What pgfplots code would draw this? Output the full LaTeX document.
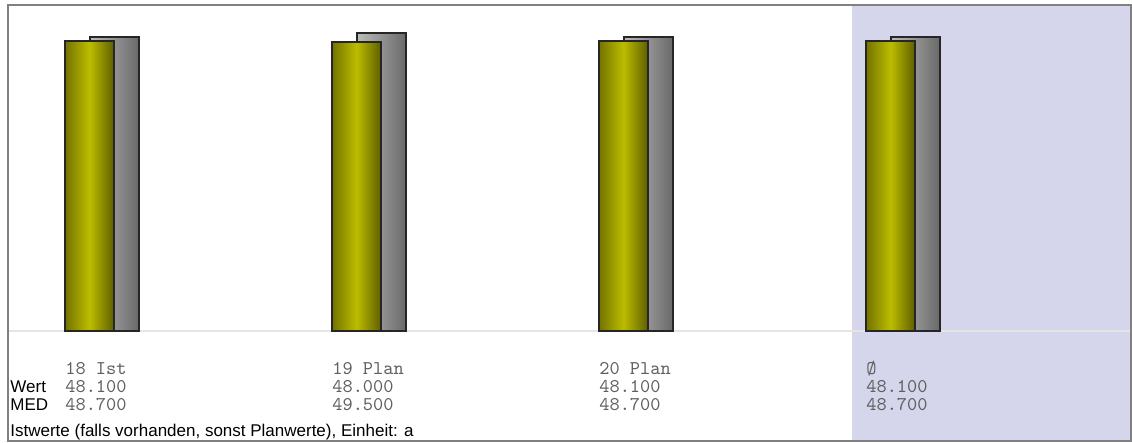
\documentclass[border=0pt]{standalone}
\usepackage{fontspec}
\setmainfont{Liberation Sans}
\usepackage{pgfplots}
\pgfplotsset{compat=1.18}
\definecolor{lav}{RGB}{213,213,235}
\definecolor{oliveL}{RGB}{115,115,0}
\definecolor{oliveM}{RGB}{188,188,0}
\definecolor{oliveR}{RGB}{95,95,0}
\definecolor{grayL}{RGB}{188,188,188}
\definecolor{grayR}{RGB}{105,105,105}
\definecolor{txtgray}{RGB}{95,95,95}
\newcommand\monof{\ttfamily\fontsize{9.7}{9}\selectfont}
\newcommand\sansf{\fontsize{8.5}{9}\selectfont}
\begin{document}
\begin{tikzpicture}
\begin{axis}[
 set layers,
 scale only axis, width=561.5pt, height=218pt,
 xmin=-0.30524, xmax=3.90075, ymin=-18.242, ymax=54.063,
 axis line style={draw=black!50, line width=0.6pt},
 ytick=\empty,
 xtick={0,1,2,3},
 xticklabels={{18 Ist\\48.100\\48.700},{19 Plan\\48.000\\49.500},{20 Plan\\48.100\\48.700},{Ø\\48.100\\48.700}},
 xticklabel style={anchor=base west, align=left, inner sep=0pt, font=\monof, text=txtgray, xshift=-12.25pt, yshift=15.25pt},
 major tick length=0pt,
 clip=false,
 every axis plot/.append style={ybar, bar width=0.18352, bar shift=0pt, draw=black!85, line width=1pt},
]
\begin{pgfonlayer}{axis background}
\fill[lav] (rel axis cs:0.75156,0) rectangle (rel axis cs:1,1);
\end{pgfonlayer}
\begin{pgfonlayer}{axis grid}
\draw[black!10, line width=1pt] (axis cs:-0.30524,0) -- (axis cs:3.90075,0);
\end{pgfonlayer}
% group 18 Ist
\addplot[left color=grayL, right color=grayR] coordinates {(0.09363,48.7)};
\addplot[left color=oliveL, right color=oliveR, middle color=oliveM] coordinates {(0,48.1)};
% group 19 Plan
\addplot[left color=grayL, right color=grayR] coordinates {(1.09363,49.5)};
\addplot[left color=oliveL, right color=oliveR, middle color=oliveM] coordinates {(1,48.0)};
% group 20 Plan
\addplot[left color=grayL, right color=grayR] coordinates {(2.09363,48.7)};
\addplot[left color=oliveL, right color=oliveR, middle color=oliveM] coordinates {(2,48.1)};
% average
\addplot[left color=grayL, right color=grayR] coordinates {(3.09363,48.7)};
\addplot[left color=oliveL, right color=oliveR, middle color=oliveM] coordinates {(3,48.1)};
\node[anchor=base west, inner sep=0pt, font=\sansf] at (axis cs:-0.29775,-10.199) {Wert};
\node[anchor=base west, inner sep=0pt, font=\sansf] at (axis cs:-0.29775,-13.184) {MED};
\node[anchor=base west, inner sep=0pt, font=\sansf] at (axis cs:-0.29775,-17.496) {Istwerte (falls vorhanden, sonst Planwerte), Einheit: a};
\end{axis}
\path ([shift={(-4pt,-1pt)}]current axis.south west) rectangle ([shift={(0.5pt,2.5pt)}]current axis.north east);
\end{tikzpicture}
\end{document}
